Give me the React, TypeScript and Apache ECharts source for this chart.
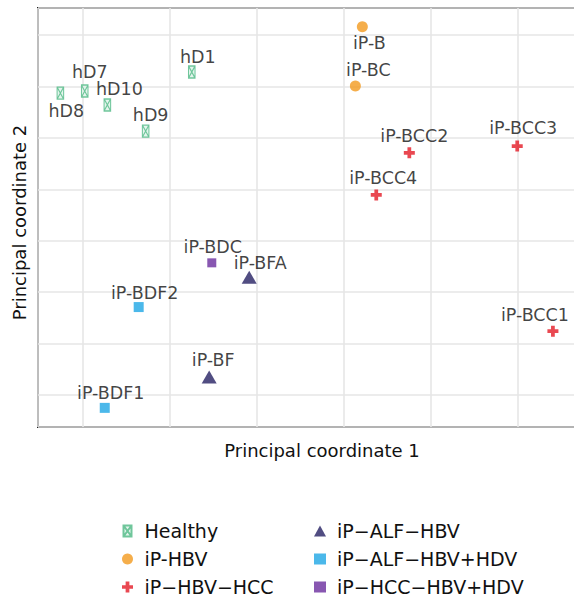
import React, { useEffect, useRef } from "react";
import * as echarts from "echarts";

// Sample data
const sampleNames = [
  "hD8", "hD7", "hD10", "hD9", "hD1",
  "iP-B", "iP-BC",
  "iP-BCC2", "iP-BCC3", "iP-BCC4", "iP-BCC1",
  "iP-BFA", "iP-BF",
  "iP-BDF2", "iP-BDF1",
  "iP-BDC",
];
const sampleGroups = [
  "Healthy", "Healthy", "Healthy", "Healthy", "Healthy",
  "iP-HBV", "iP-HBV",
  "iP−HBV−HCC", "iP−HBV−HCC", "iP−HBV−HCC", "iP−HBV−HCC",
  "iP−ALF−HBV", "iP−ALF−HBV",
  "iP−ALF−HBV+HDV", "iP−ALF−HBV+HDV",
  "iP−HCC−HBV+HDV",
];
const pc1 = [
  -0.26, 0.02, 0.28, 0.72, 1.25,
  3.21, 3.13,
  3.75, 4.99, 3.37, 5.40,
  1.91, 1.45,
  0.64, 0.25,
  1.48,
];
const pc2 = [
  5.87, 5.91, 5.64, 5.13, 6.28,
  7.16, 6.01,
  4.71, 4.84, 3.89, 1.24,
  2.29, 0.35,
  1.71, -0.25,
  2.57,
];
const groupOrder = [
  "Healthy", "iP-HBV", "iP−HBV−HCC",
  "iP−ALF−HBV", "iP−ALF−HBV+HDV", "iP−HCC−HBV+HDV",
];

// label placement (px offsets of label centre from point), like ggrepel
const labelOffsets: Record<string, [number, number]> = {
  hD8: [6, 18], hD7: [5, -19], hD10: [12, -16], hD9: [5, -16], hD1: [6, -15],
  "iP-B": [7, 16], "iP-BC": [13, -16],
  "iP-BCC2": [5, -17], "iP-BCC3": [6, -18], "iP-BCC4": [7, -17], "iP-BCC1": [-18, -16],
  "iP-BFA": [11, -14], "iP-BF": [4, -17],
  "iP-BDF2": [6, -14], "iP-BDF1": [6, -15],
  "iP-BDC": [1, -16],
};

const FONT = "'DejaVu Sans', 'Liberation Sans', Arial, sans-serif";

const groupStyle: Record<string, any> = {
  Healthy: {
    symbol: "path://M0,0H8V11H0Z M0,0L8,11M8,0L0,11",
    symbolSize: [9, 12],
    itemStyle: { color: "#dff3e8", borderColor: "#4fb985", borderWidth: 1.2 },
  },
  "iP-HBV": {
    symbol: "circle",
    symbolSize: 11,
    itemStyle: { color: "#f39a1e" },
  },
  "iP−HBV−HCC": {
    symbol: "path://M3.3,0H6.7V3.3H10V6.7H6.7V10H3.3V6.7H0V3.3H3.3Z",
    symbolSize: 11,
    itemStyle: { color: "#e41a26" },
  },
  "iP−ALF−HBV": {
    symbol: "triangle",
    symbolSize: [15, 13],
    itemStyle: { color: "#262163" },
  },
  "iP−ALF−HBV+HDV": {
    symbol: "rect",
    symbolSize: 10,
    itemStyle: { color: "#1ea6e5" },
  },
  "iP−HCC−HBV+HDV": {
    symbol: "rect",
    symbolSize: 9,
    itemStyle: { color: "#6a2d9e" },
  },
};

export default function App() {
  const ref = useRef<HTMLDivElement>(null);
  useEffect(() => {
    if (!ref.current) return;
    const chart = echarts.init(ref.current, null, { renderer: "svg" });
    const series = groupOrder.map((g) => {
      const data: any[] = [];
      sampleNames.forEach((n, i) => {
        if (sampleGroups[i] !== g) return;
        const off = labelOffsets[n] || [0, -15];
        data.push({
          name: n,
          value: [pc1[i], pc2[i]],
          label: { offset: off },
        });
      });
      return {
        type: "scatter",
        name: g,
        data,
        ...groupStyle[g],
        symbolKeepAspect: true,
        label: {
          show: true,
          position: "inside",
          formatter: "{b}",
          color: "#111111",
          fontSize: 17.5,
          fontFamily: FONT,
        },
        emphasis: { disabled: true },
        z: 3,
      };
    });
    const legendBase = {
      orient: "vertical",
      top: 521,
      padding: 0,
      itemWidth: 12,
      itemHeight: 11,
      itemGap: 8,
      symbolKeepAspect: true,
      selectedMode: false,
      textStyle: {
        fontSize: 19,
        fontFamily: FONT,
        color: "#111111",
        lineHeight: 20,
        padding: [0, 0, 0, 6],
      },
    };
    chart.setOption({
      animation: false,
      backgroundColor: "#ffffff",
      grid: {
        left: 38,
        top: 8,
        right: 4,
        bottom: 178,
        show: true,
        borderColor: "#1f1f1f",
        borderWidth: 2,
        backgroundColor: "transparent",
      },
      xAxis: {
        type: "value",
        min: -0.517,
        max: 6.01,
        splitNumber: 6,
        name: "Principal coordinate 1",
        nameLocation: "middle",
        nameGap: 14,
        nameTextStyle: { fontSize: 18, fontFamily: FONT, color: "#111111" },
        axisLine: { show: false },
        axisTick: { show: false },
        axisLabel: { show: false },
        splitLine: { show: true, lineStyle: { color: "#e6e6e6", width: 1.6 } },
      },
      yAxis: {
        type: "value",
        min: -0.622,
        max: 7.525,
        splitNumber: 8,
        name: "Principal coordinate 2",
        nameLocation: "middle",
        nameGap: 10,
        nameTextStyle: { fontSize: 18, fontFamily: FONT, color: "#111111", padding: [0, 10, 0, 0] },
        axisLine: { show: false },
        axisTick: { show: false },
        axisLabel: { show: false },
        splitLine: { show: true, lineStyle: { color: "#e6e6e6", width: 1.6 } },
      },
      legend: [
        { ...legendBase, left: 122, data: groupOrder.slice(0, 3) },
        { ...legendBase, left: 314, data: groupOrder.slice(3) },
      ],
      series,
    });
    return () => chart.dispose();
  }, []);
  return (
    <div
      ref={ref}
      style={{ position: "fixed", left: 0, top: 0, width: 610, height: 605 }}
    />
  );
}
